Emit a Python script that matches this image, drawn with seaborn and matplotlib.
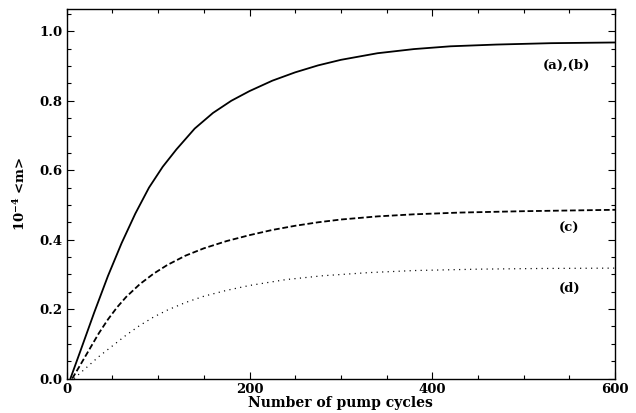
import pandas as pd
import matplotlib
matplotlib.use("Agg")
import matplotlib.pyplot as plt
from matplotlib.ticker import MultipleLocator, FormatStrFormatter
import seaborn as sns

# curves (a),(b): solid
cycles_ab = [4, 15, 30, 45, 60, 75, 90, 105, 120, 140, 160, 180, 200, 225, 250, 275, 300,
             340, 380, 420, 470, 530, 600]
m_ab = [0.0, 0.08, 0.19, 0.295, 0.39, 0.475, 0.55, 0.61, 0.66, 0.72, 0.765, 0.80, 0.828,
        0.858, 0.882, 0.902, 0.918, 0.937, 0.949, 0.957, 0.962, 0.966, 0.968]

# curve (c): dashed
cycles_c = [6, 15, 25, 35, 45, 55, 65, 80, 95, 110, 130, 150, 175, 200, 225, 250, 275, 300,
            340, 380, 430, 500, 600]
m_c = [0.0, 0.04, 0.085, 0.13, 0.17, 0.205, 0.235, 0.272, 0.302, 0.327, 0.354, 0.375, 0.396,
       0.413, 0.428, 0.44, 0.45, 0.458, 0.467, 0.473, 0.478, 0.482, 0.486]

# curve (d): dotted
cycles_d = [8, 20, 35, 50, 65, 80, 95, 110, 130, 150, 175, 200, 240, 280, 330, 380, 450, 520, 600]
m_d = [0.0, 0.028, 0.063, 0.094, 0.125, 0.153, 0.177, 0.197, 0.219, 0.237, 0.254, 0.268,
       0.285, 0.296, 0.305, 0.311, 0.315, 0.317, 0.318]

curve_labels = ["(a),(b)", "(c)", "(d)"]
label_x = [547, 550, 550]
label_y = [0.903, 0.433, 0.26]

sns.set_style("ticks")
plt.rcParams['font.family'] = ['DejaVu Serif']
plt.rcParams['font.weight'] = 'bold'
plt.rcParams['mathtext.fontset'] = 'dejavuserif'
plt.rcParams['mathtext.default'] = 'bf'
# plain black, like the printed figure
for key in ['text.color', 'axes.labelcolor', 'xtick.color', 'ytick.color', 'axes.edgecolor']:
    plt.rcParams[key] = 'black'

fig = plt.figure(figsize=(6.36, 4.13), dpi=100)
ax = fig.add_axes([0.105, 0.0835, 0.862, 0.8935])

df_ab = pd.DataFrame({"cycles": cycles_ab, "m": m_ab})
df_c = pd.DataFrame({"cycles": cycles_c, "m": m_c})
df_d = pd.DataFrame({"cycles": cycles_d, "m": m_d})

sns.lineplot(data=df_ab, x="cycles", y="m", ax=ax, color="black", linewidth=1.3, estimator=None)
sns.lineplot(data=df_c, x="cycles", y="m", ax=ax, color="black", linewidth=1.3,
             estimator=None).lines[-1].set_dashes((3.2, 1.5))
sns.lineplot(data=df_d, x="cycles", y="m", ax=ax, color="black", linewidth=0.9,
             estimator=None).lines[-1].set_dashes((0.9, 3.5))

for txt, lx, ly in zip(curve_labels, label_x, label_y):
    ax.text(lx, ly, txt, ha="center", va="center", fontsize=9.5, fontweight="bold")

ax.set_xlim(0, 600)
ax.set_ylim(0, 1.063)
ax.xaxis.set_major_locator(MultipleLocator(200))
ax.xaxis.set_minor_locator(MultipleLocator(50))
ax.yaxis.set_major_locator(MultipleLocator(0.2))
ax.yaxis.set_minor_locator(MultipleLocator(0.05))
ax.yaxis.set_major_formatter(FormatStrFormatter("%.1f"))
ax.tick_params(which="both", direction="in", top=True, right=True, width=0.8,
               labelsize=9.5, pad=3, colors="black")
ax.tick_params(which="major", length=5)
ax.tick_params(which="minor", length=2.7)
for sp in ax.spines.values():
    sp.set_linewidth(1.0)
    sp.set_color("black")

ax.set_xlabel("Number of pump cycles", fontsize=10, fontweight="bold", labelpad=0)
ax.set_ylabel(r"10$^{-4}$ <m>", fontsize=9.5, fontweight="bold", labelpad=8)

fig.savefig("out.png", dpi=100)
